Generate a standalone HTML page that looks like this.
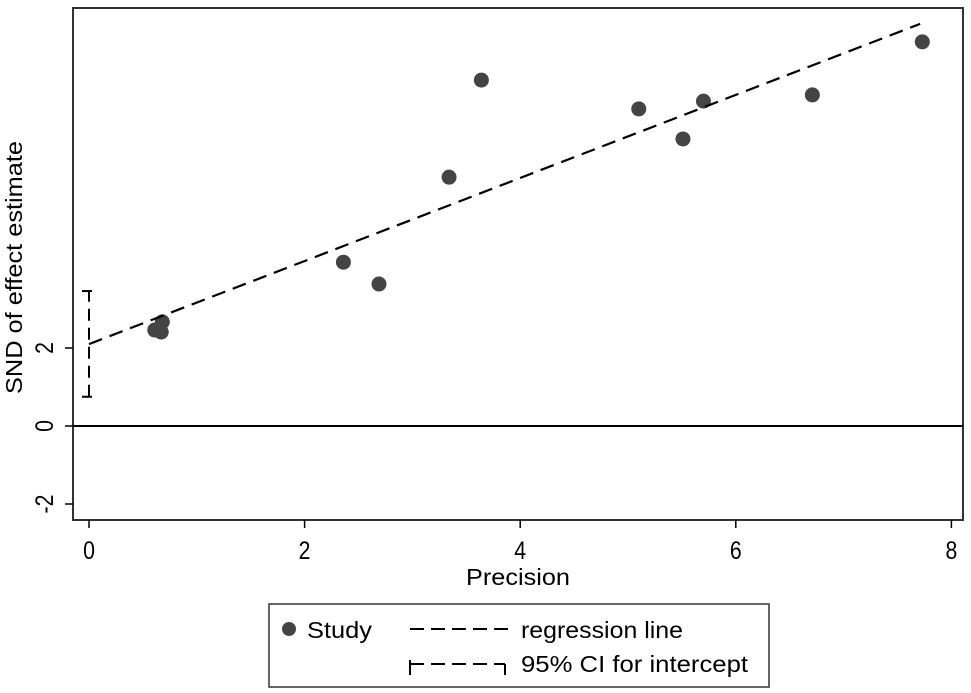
<!DOCTYPE html>
<html><head><meta charset="utf-8"><style>
body{margin:0;background:#fff;}
svg{display:block;font-family:"Liberation Sans",sans-serif;}
</style></head><body>
<svg id="chart" width="971" height="693" xmlns="http://www.w3.org/2000/svg">
<rect x="73" y="8" width="890" height="512" fill="#fff" stroke="#333" stroke-width="2"/>
<g id="marks"></g>
<text x="466" y="585" font-size="23" textLength="104" lengthAdjust="spacingAndGlyphs">Precision</text>
<text transform="translate(22,394) rotate(-90)" font-size="23" textLength="253" lengthAdjust="spacingAndGlyphs">SND of effect estimate</text>
<g>
<rect x="269" y="604" width="500" height="83" fill="#fff" stroke="#333" stroke-width="1.5"/>
<circle cx="289" cy="629" r="7" fill="#444"/>
<text x="307" y="638" font-size="23" textLength="65" lengthAdjust="spacingAndGlyphs">Study</text>
<line x1="410" y1="629" x2="508" y2="629" stroke="#000" stroke-width="2" stroke-dasharray="14,7"/>
<text x="521" y="638" font-size="23" textLength="162" lengthAdjust="spacingAndGlyphs">regression line</text>
<line x1="410" y1="664" x2="505" y2="664" stroke="#000" stroke-width="2" stroke-dasharray="14,7"/>
<line x1="410" y1="660" x2="410" y2="675" stroke="#000" stroke-width="2"/>
<line x1="505" y1="664" x2="505" y2="675" stroke="#000" stroke-width="2"/>
<text x="521" y="672" font-size="23" textLength="227" lengthAdjust="spacingAndGlyphs">95% CI for intercept</text>
</g>
</svg>
<script>
const studyX=[0.61,0.68,0.67,2.36,2.69,3.34,3.64,5.10,5.51,5.70,6.71,7.73];
const studyY=[2.46,2.67,2.41,4.20,3.64,6.38,8.87,8.13,7.36,8.33,8.49,9.85];
const intercept=[2.1];
const slope=[1.065];
const lineEndX=[7.71];
const ciLow=[0.75];
const ciHigh=[3.46];
const xTicks=[0,2,4,6,8];
const yTicks=[-2,0,2];
const NS='http://www.w3.org/2000/svg';
const sx=v=>89+v*107.8;
const sy=v=>426-v*39;
const g=document.getElementById('marks');
function mk(t,a){const e=document.createElementNS(NS,t);for(const k in a)e.setAttribute(k,a[k]);g.appendChild(e);return e;}
xTicks.forEach(v=>{
 const l=mk('line',{x1:sx(v),x2:sx(v),y1:520,y2:528,stroke:'#000','stroke-width':1.5});
 
 
 const t=mk('text',{x:sx(v),y:559,'font-size':25,'text-anchor':'middle',transform:`translate(${sx(v)*0.15},0) scale(0.85,1)`});
 t.textContent=v;
 
 
});
yTicks.forEach(v=>{
 const l=mk('line',{x1:65,x2:73,y1:sy(v),y2:sy(v),stroke:'#000','stroke-width':1.5});
 
 
 const t=mk('text',{x:0,y:0,'font-size':25,'text-anchor':'middle',transform:`translate(${53},${sy(v)}) rotate(-90) scale(0.85,1)`});t.textContent=v;
 
 
});
const z=mk('line',{x1:73,x2:963,y1:sy(0),y2:sy(0),stroke:'#000','stroke-width':2});


const ci=mk('line',{x1:sx(0),x2:sx(0),y1:sy(ciLow[0]),y2:sy(ciHigh[0]),stroke:'#000','stroke-width':2,'stroke-dasharray':'12,7'});


[ciLow[0],ciHigh[0]].forEach(v=>{const c=mk('line',{x1:sx(0)-7,x2:sx(0)+3,y1:sy(v),y2:sy(v),stroke:'#000','stroke-width':2});
 
 });
studyX.forEach((x,i)=>{
 const c=mk('circle',{cx:sx(x),cy:sy(studyY[i]),r:7.5,fill:'#444'});
 
 
});
const r=mk('line',{x1:sx(0),y1:sy(intercept[0]),x2:sx(lineEndX[0]),y2:sy(intercept[0]+slope[0]*lineEndX[0]),stroke:'#000','stroke-width':2.2,'stroke-dasharray':'14,8'});


</script>
</body></html>
